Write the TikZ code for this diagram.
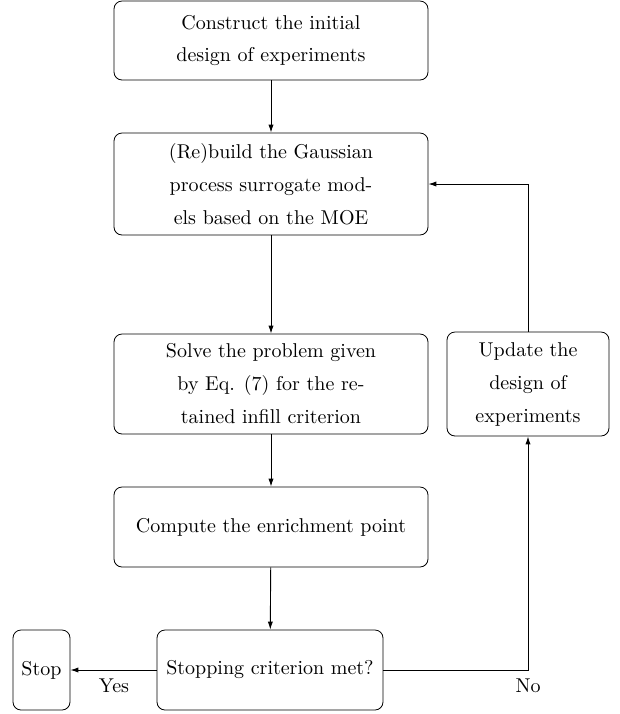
\documentclass[tikz,border=0pt]{standalone}
\usetikzlibrary{arrows.meta}
\begin{document}
\begin{tikzpicture}[x=0.5pt,y=-0.5pt,
  box/.style={draw, rounded corners=4pt, align=center, inner sep=0pt,
    font=\fontsize{10}{16.5}\selectfont},
  arr/.style={-{Latex[length=4pt,width=2.6pt]}, line width=0.45pt},
  lbl/.style={font=\fontsize{10}{12}\selectfont}]
\useasboundingbox (0,0) rectangle (620,714);
\node[box, minimum width=157pt, minimum height=39.5pt] (init) at (271,40.5)
  {Construct the initial\\design of experiments};
\node[box, minimum width=157pt, minimum height=51pt] (build) at (271,184)
  {(Re)build the Gaussian\\process surrogate mod-\\els based on the MOE};
\node[box, minimum width=157pt, minimum height=50pt] (solve) at (271,384)
  {Solve the problem given\\by Eq. (7) for the re-\\tained infill criterion};
\node[box, minimum width=157pt, minimum height=40pt] (enrich) at (271,527)
  {Compute the enrichment point};
\node[box, minimum width=113pt, minimum height=40pt] (crit) at (270,670)
  {Stopping criterion met?};
\node[box, minimum width=28.5pt, minimum height=40pt] (stop) at (41.5,670)
  {Stop};
\node[box, minimum width=81pt, minimum height=52pt] (update) at (528,384)
  {Update the\\design of\\experiments};
\draw[arr] (init) -- (build);
\draw[arr] (build) -- (solve);
\draw[arr] (solve) -- (enrich);
\draw[arr] (enrich) -- (crit);
\draw[arr] (crit) -- (stop);
\draw[arr] (crit.east) -| (update.south);
\draw[arr] (update.north) |- (build.east);
\node[lbl] (yes) at (114,686) {Yes};
\node[lbl] (no) at (528,686) {No};
\end{tikzpicture}
\end{document}
